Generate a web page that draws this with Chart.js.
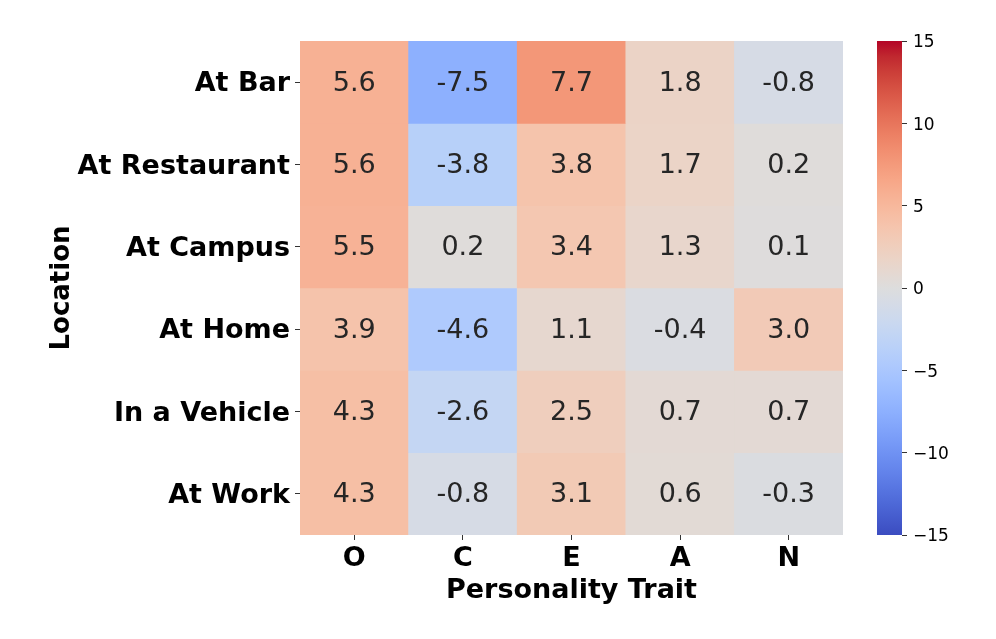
<!DOCTYPE html>
<html>
<head>
<meta charset="utf-8">
<script src="https://cdn.jsdelivr.net/npm/chart.js@4.4.1/dist/chart.umd.min.js"></script>
<style>
  html, body { margin: 0; padding: 0; background: #fff; }
  #wrap { position: relative; width: 996px; height: 639px; }
  #main { position: absolute; left: 0; top: 0; }
  #cbar { position: absolute; left: 860px; top: 0; }
</style>
</head>
<body>
<div id="wrap">
  <canvas id="main" width="996" height="639"></canvas>
  <canvas id="cbar" width="136" height="639"></canvas>
</div>
<script>
const locations = ["At Bar", "At Restaurant", "At Campus", "At Home", "In a Vehicle", "At Work"];
const traits = ["O", "C", "E", "A", "N"];
const atBar        = [5.6, -7.5, 7.7, 1.8, -0.8];
const atRestaurant = [5.6, -3.8, 3.8, 1.7, 0.2];
const atCampus     = [5.5, 0.2, 3.4, 1.3, 0.1];
const atHome       = [3.9, -4.6, 1.1, -0.4, 3.0];
const inVehicle    = [4.3, -2.6, 2.5, 0.7, 0.7];
const atWork       = [4.3, -0.8, 3.1, 0.6, -0.3];
const values = [atBar, atRestaurant, atCampus, atHome, inVehicle, atWork];
const vmin = -15, vmax = 15;
const colorbarTicks = [-15, -10, -5, 0, 5, 10, 15];

// matplotlib "coolwarm" samples
const coolwarm = [
  [59,76,192],[68,90,204],[77,104,215],[87,117,225],[98,130,234],[108,142,241],
  [119,154,247],[130,165,251],[141,176,254],[152,185,255],[163,194,255],[174,201,253],
  [184,208,249],[194,213,244],[204,217,238],[213,219,230],[221,221,221],[229,216,209],
  [236,211,197],[241,204,185],[245,196,173],[247,187,160],[247,177,148],[247,166,135],
  [244,154,123],[241,141,111],[236,127,99],[229,112,88],[222,96,77],[213,80,66],
  [203,62,56],[192,40,47],[180,4,38]
];
function cmap(t) {
  t = Math.max(0, Math.min(1, t));
  const n = coolwarm.length - 1;
  const p = t * n, i = Math.min(Math.floor(p), n - 1), f = p - i;
  const a = coolwarm[i], b = coolwarm[i + 1];
  const c = a.map((v, k) => Math.round(v + (b[k] - v) * f));
  return `rgb(${c[0]},${c[1]},${c[2]})`;
}
const colorOf = v => cmap((v - vmin) / (vmax - vmin));

const FONT = "'DejaVu Sans', sans-serif";
const TEXT = '#262626';

const datasets = values.map((row, i) => ({
  label: locations[i],
  data: row.map(() => [i - 0.5, i + 0.5]),
  backgroundColor: row.map(colorOf),
  borderWidth: 0,
  barPercentage: 1,
  categoryPercentage: 1,
  grouped: false
}));

const cellLabels = {
  id: 'cellLabels',
  afterDatasetsDraw(chart) {
    const ctx = chart.ctx;
    ctx.save();
    ctx.font = `27px ${FONT}`;
    ctx.fillStyle = TEXT;
    ctx.textAlign = 'center';
    ctx.textBaseline = 'middle';
    chart.data.datasets.forEach((ds, i) => {
      const meta = chart.getDatasetMeta(i);
      meta.data.forEach((el, j) => {
        const y = (el.y + el.base) / 2 + 1.5;
        ctx.fillText(values[i][j].toFixed(1), el.x, y);
      });
    });
    ctx.restore();
  }
};

new Chart(document.getElementById('main'), {
  type: 'bar',
  data: { labels: traits, datasets },
  options: {
    responsive: false,
    animation: false,
    layout: { padding: { top: 41, right: 153, left: 0, bottom: 0 } },
    plugins: { legend: { display: false }, tooltip: { enabled: false } },
    scales: {
      x: {
        type: 'category',
        offset: true,
        grid: { offset: false, drawOnChartArea: false, drawTicks: true, tickLength: 5, color: '#333', tickWidth: 1 },
        border: { display: false },
        ticks: { color: '#000', font: { family: FONT, size: 27, weight: 'bold' }, padding: 3, maxRotation: 0 },
        title: { display: true, text: 'Personality Trait', color: '#000', font: { family: FONT, size: 27, weight: 'bold' }, padding: { top: 0, bottom: 32 } },
        afterFit(s) { s.height = 104; }
      },
      y: {
        type: 'linear',
        reverse: true,
        min: -0.5,
        max: 5.5,
        afterBuildTicks(s) { s.ticks = locations.map((_, i) => ({ value: i })); },
        grid: { drawOnChartArea: false, drawTicks: true, tickLength: 5, color: '#333', tickWidth: 1 },
        border: { display: false },
        ticks: { color: '#000', font: { family: FONT, size: 27, weight: 'bold' }, padding: 5, labelOffset: 2, callback: v => locations[v] },
        title: { display: true, text: 'Location', color: '#000', font: { family: FONT, size: 26, weight: 'bold' }, padding: { top: 47, bottom: 0 } },
        afterFit(s) { s.width = 300; }
      }
    }
  },
  plugins: [cellLabels]
});

// colorbar
function gradientFill(context) {
  const { chart } = context;
  const area = chart.chartArea;
  if (!area) return null;
  const g = chart.ctx.createLinearGradient(0, area.bottom, 0, area.top);
  coolwarm.forEach((c, k) => g.addColorStop(k / (coolwarm.length - 1), `rgb(${c[0]},${c[1]},${c[2]})`));
  return g;
}
new Chart(document.getElementById('cbar'), {
  type: 'bar',
  data: {
    labels: ['cb'],
    datasets: [{ data: [[vmin, vmax]], backgroundColor: gradientFill, borderWidth: 0, barPercentage: 1, categoryPercentage: 1 }]
  },
  options: {
    responsive: false,
    animation: false,
    layout: { padding: { top: 41, bottom: 104, left: 17, right: 0 } },
    plugins: { legend: { display: false }, tooltip: { enabled: false } },
    scales: {
      x: { display: false, offset: true },
      y: {
        position: 'right',
        min: vmin, max: vmax,
        afterBuildTicks(s) { s.ticks = colorbarTicks.map(v => ({ value: v })); },
        grid: { drawOnChartArea: false, drawTicks: true, tickLength: 5, color: '#333' },
        border: { display: false },
        ticks: { color: '#000', font: { family: FONT, size: 17 }, padding: 6, labelOffset: 2, callback: v => String(v).replace('-', '\u2212') },
        afterFit(s) { s.width = 94; }
      }
    }
  }
});
</script>
</body>
</html>
